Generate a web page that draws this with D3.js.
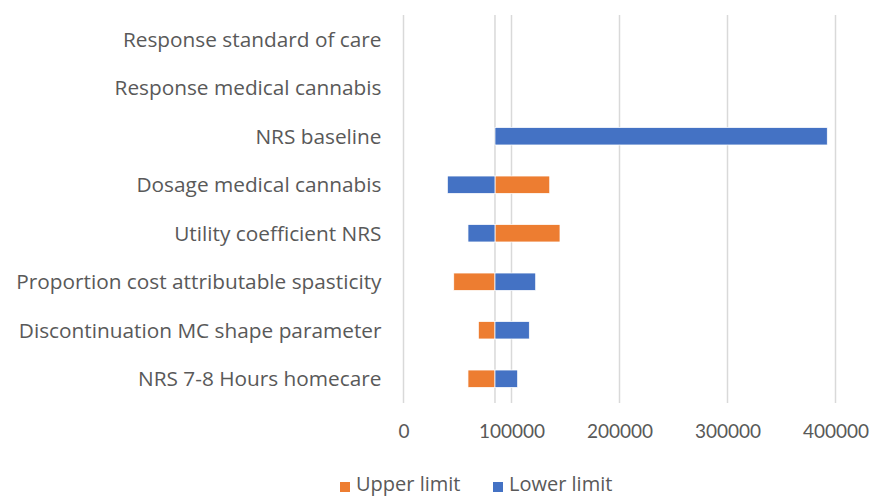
<!DOCTYPE html>
<html>
<head>
<meta charset="utf-8">
<script src="https://cdn.jsdelivr.net/npm/d3@7"></script>
<style>
  body { margin: 0; background: #fff; }
  text { font-family: "Open Sans", sans-serif; fill: #595959; }
</style>
</head>
<body>
<div class="chart"></div>
<script>
// Chart data
var categories = [
  "Response standard of care",
  "Response medical cannabis",
  "NRS baseline",
  "Dosage medical cannabis",
  "Utility coefficient NRS",
  "Proportion cost attributable spasticity",
  "Discontinuation MC shape parameter",
  "NRS 7-8 Hours homecare"
];
var baseValue = 84700;
var upperLimit = [84700, 84700, 84700, 135400, 144900, 46500, 69300, 59700];
var lowerLimit = [84700, 84700, 392400, 40600, 59700, 122400, 116500, 105700];
var tickValues = [0, 100000, 200000, 300000, 400000];
var seriesNames = ["Upper limit", "Lower limit"];
var seriesColors = ["#ED7D31", "#4472C4"];

var svgWidth = 874;
var svgHeight = 498;
var margin = { top: 15, right: 39, bottom: 95, left: 403.5 };
var width = svgWidth - margin.left - margin.right;
var height = svgHeight - margin.top - margin.bottom;

var svg = d3.select(".chart")
  .append("svg")
  .attr("width", svgWidth)
  .attr("height", svgHeight);

var chart = svg.append("g")
  .attr("transform", "translate(" + margin.left + ", " + margin.top + ")");

// x from 0 to 400000 (108px per 100000)
var xScale = d3.scaleLinear().domain([0, 400000]).range([0, 432]);
var yScale = d3.scaleBand().domain(categories).range([0, height]).paddingInner(0.64).paddingOuter(0.32);

// gridlines
chart.selectAll(".grid")
  .data(tickValues)
  .enter().append("line")
  .attr("x1", function(d) { return xScale(d); })
  .attr("x2", function(d) { return xScale(d); })
  .attr("y1", 0)
  .attr("y2", height)
  .attr("stroke", "#d9d9d9")
  .attr("stroke-width", 1.5);

// vertical axis line at base value
chart.append("line")
  .attr("x1", xScale(baseValue))
  .attr("x2", xScale(baseValue))
  .attr("y1", 0)
  .attr("y2", height)
  .attr("stroke", "#d9d9d9")
  .attr("stroke-width", 1.5);

// bars
var series = [upperLimit, lowerLimit];
series.forEach(function(values, si) {
  var rows = values.map(function(v, i) { return { cat: categories[i], value: v }; })
    .filter(function(r) { return r.value !== baseValue; });
  chart.selectAll(".bar" + si)
    .data(rows)
    .enter().append("rect")
    .attr("x", function(d) { return xScale(Math.min(d.value, baseValue)); })
    .attr("y", function(d) { return yScale(d.cat); })
    .attr("width", function(d) { return Math.abs(xScale(d.value) - xScale(baseValue)); })
    .attr("height", yScale.bandwidth())
    .attr("fill", seriesColors[si])
    .attr("stroke", "#fff")
    .attr("stroke-width", 0.75);
});

// category labels
chart.selectAll(".catLabel")
  .data(categories)
  .enter().append("text")
  .attr("x", -22)
  .attr("y", function(d) { return yScale(d) + yScale.bandwidth() / 2; })
  .attr("dy", "0.35em")
  .attr("text-anchor", "end")
  .style("font-size", "20.8px")
  .text(function(d) { return d; });

// bottom axis labels
var bottomAxis = d3.axisBottom(xScale).tickValues(tickValues).tickSize(0).tickPadding(22).tickFormat(d3.format("d"));
var axisG = chart.append("g")
  .attr("transform", "translate(0, " + height + ")")
  .call(bottomAxis);
axisG.select(".domain").remove();
axisG.selectAll("text")
  .style("font-size", "19px")
  .style("font-family", "Lato, sans-serif")
  .attr("fill", "#595959");

// legend
var legendX = [340, 493];
var legend = svg.selectAll(".legend")
  .data(seriesNames)
  .enter().append("g")
  .attr("transform", function(d, i) { return "translate(" + legendX[i] + ", 485)"; });
legend.append("rect")
  .attr("x", 0)
  .attr("y", -3)
  .attr("width", 10)
  .attr("height", 10)
  .attr("fill", function(d, i) { return seriesColors[i]; });
legend.append("text")
  .attr("x", 16)
  .attr("y", 0)
  .attr("dy", "0.3em")
  .style("font-size", "20px")
  .text(function(d) { return d; });
</script>
</body>
</html>
